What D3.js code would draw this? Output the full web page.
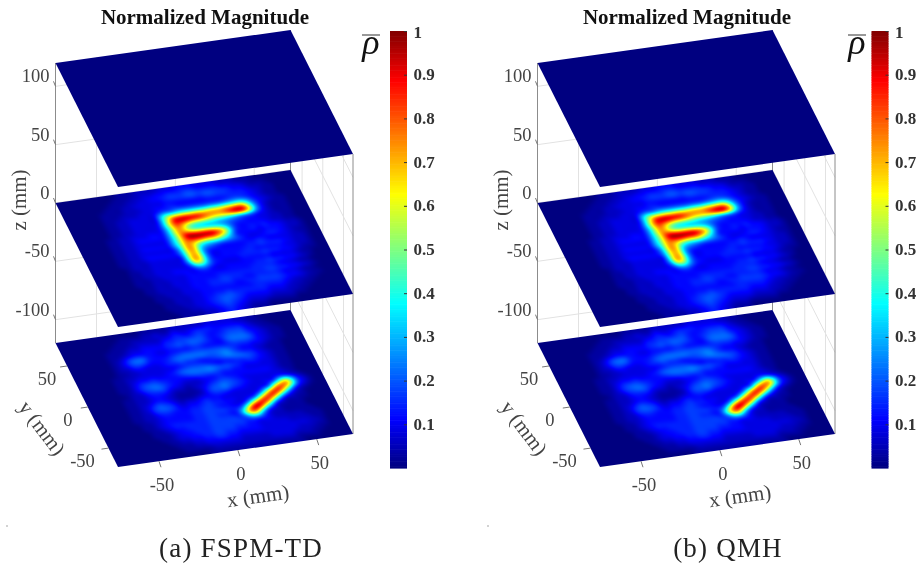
<!DOCTYPE html>
<html><head><meta charset="utf-8">
<script src="https://cdn.jsdelivr.net/npm/d3@7"></script>
<style>html,body{margin:0;background:#fff}svg{display:block;filter:blur(0.35px)}</style></head>
<body><div id="c"></div>
<script>
const titleText = "Normalized Magnitude";
const captions = ["(a) FSPM-TD", "(b) QMH"];
const zTicks = [100, 50, 0, -50, -100];
const xTicks = [-50, 0, 50];
const yTicks = [-50, 0, 50];
const barTicks = [0.1,0.2,0.3,0.4,0.5,0.6,0.7,0.8,0.9,1];
const jetStops = ["#000080","#0000ff","#00ffff","#ffff00","#ff0000","#800000"];
const jetPos = [0,0.11,0.375,0.625,0.885,1];
const planeZ = [-120, 0, 120];
// Field values, rows from back (y max) to front (y min); base-36, 0..z = 0..1
const topGrid = ["00000000","00000000","00000000","00000000","00000000","00000000"];
const midGrid = [
"0000000000 1112222333 4443333222 1110000000",
"0000000001 1122334455 5665555443 3211100000",
"0000000011 1223344566 6776776654 4322110000",
"0000000111 2233333444 4444555555 5432110000",
"0000001111 2223344554 4444444566 5432110000",
"0000001112 2233346689 9999aabcde b643211000",
"0000001122 33333bhjkl lmmnooqrts i942111000",
"0000001122 33333blwzz yxurqqtxzw ma42111000",
"0000001122 33334cnusp mlkigfdb98 6432111000",
"0000001122 33334ajrmf cbaa987654 4332211000",
"0000011223 33444ajqnk iihgea6444 4432211000",
"0000011223 44444ahrzz zzzvpf6445 4544322100",
"0000011223 33334ahquv usrnha4444 3444322100",
"0000011223 44444agqoj feeca86433 4554321100",
"0000011223 333336fqod 9754444445 4333322100",
"0000011223 444446eonb 5444444556 5554322100",
"0000011222 333333dpoc 5344445544 4443322100",
"0000001222 333334bonc 5444455556 5544321100",
"0000001122 3333336de9 5433344444 3333211000",
"0000001122 3334443564 3344444556 5544321000",
"0000001112 2333344444 4444445555 4332110000",
"0000001112 2233344444 5555555566 5544321000",
"0000000112 2233344455 6655445555 4332110000",
"0000000112 2223344455 5544556666 5443211000",
"0000000011 2223334444 4444455555 4322110000",
"0000000011 1222334455 6555555444 3221100000",
"0000000001 1222334567 7654444333 2211000000",
"0000000001 1122334567 6543333222 2110000000",
"0000000000 1112233456 5432221111 1000000000",
"0000000000 0111122345 4321110000 0000000000"];
const lowGrid = [
"0000000000 0000111112 2222233333 2211000000",
"0000000000 1111223224 3345554444 4321100000",
"0000000001 1122222345 5456544566 6432110000",
"0000000011 1223333556 6777545677 7543211000",
"0000000111 2334444567 6776544788 8743211000",
"0000000112 3444433444 4554444566 6543211000",
"0000000124 7885444567 7777777654 4332110000",
"0000000124 6764445788 8887789754 4321110000",
"0000000122 4433345565 5445678887 6432110000",
"0000000112 2333333456 6654344556 5432110000",
"0000001122 3333345788 8898776544 4332110000",
"0000001123 4454444567 7776554433 3332110000",
"0000001124 6776544333 4445444444 4432110000",
"0000001124 6787543222 3456654333 3333210000",
"0000000122 4555322123 4678765433 3344321000",
"0000001122 3443211112 5778654333 45dlf63100",
"0000001122 3443211123 4554333334 6ltsh63100",
"0000001123 5765323345 443333335e rxrf521000",
"0000001123 6776434456 55443347ju wmb4210000",
"0000001122 4554445566 544335eqxt g622110000",
"0000001122 3444445566 66557jxzoc 3211100000",
"0000000112 3444445566 5545frui73 2111100000",
"0000000112 3455555566 66657de732 2111110000",
"0000000011 2344555566 6666554432 2222111000",
"0000000011 1234455566 6655443333 3222211000",
"0000000001 1233445566 5544443333 3333221000",
"0000000000 1122334455 4433333333 3322211000",
"0000000000 0111223333 3322222333 3222110000",
"0000000000 0011111222 2222222222 2111100000",
"0000000000 0000001111 1111111111 1100000000"];

const xDom=[-76,73], yDom=[-73,78];
const xS=d3.scaleLinear().domain(xDom).range([0,1]);
const yS=d3.scaleLinear().domain(yDom).range([0,1]);
const zS=d3.scaleLinear().domain([-120,120]).range([140,-140]);
const jet=d3.scaleLinear().domain(jetPos).range(jetStops).interpolate(d3.interpolateRgb).clamp(true);
function project(x,y,z){const a=xS(x),b=yS(y);return [118+235*a-62.5*b, 327-33*a-124*b+zS(z)];}
function cr(p0,p1,p2,p3,t){return 0.5*(2*p1+(p2-p0)*t+(2*p0-5*p1+4*p2-p3)*t*t+(3*p1-p0-3*p2+p3)*t*t*t);}
function fieldImage(rowsIn){
  const rows=rowsIn.map(r=>r.replace(/ /g,""));
  const R=rows.length,C=rows[0].length,W=470,H=280;
  const v=rows.map(r=>Array.from({length:C},(_,i)=>parseInt(r[i]||"0",36)/35));
  const at=(r,c)=>v[Math.max(0,Math.min(R-1,r))][Math.max(0,Math.min(C-1,c))];
  const f=new Float32Array(W*H);
  for(let j=0;j<H;j++){const gy=(j+.5)/H*R-.5,r0=Math.floor(gy),ty=gy-r0;
    for(let i=0;i<W;i++){const gx=(i+.5)/W*C-.5,c0=Math.floor(gx),tx=gx-c0;
      const col=[-1,0,1,2].map(k=>cr(at(r0+k,c0-1),at(r0+k,c0),at(r0+k,c0+1),at(r0+k,c0+2),tx));
      f[j*W+i]=cr(col[0],col[1],col[2],col[3],ty);}}
  d3.blur2({data:f,width:W,height:H},4);
  const cv=document.createElement("canvas");cv.width=W;cv.height=H;
  const ctx=cv.getContext("2d"),im=ctx.createImageData(W,H);
  for(let o=0;o<W*H;o++){const c=d3.rgb(jet(Math.max(0,Math.min(1,f[o]))));
    im.data[o*4]=c.r;im.data[o*4+1]=c.g;im.data[o*4+2]=c.b;im.data[o*4+3]=255;}
  ctx.putImageData(im,0,0);
  return {url:cv.toDataURL(),W,H};
}
const svg=d3.select("#c").append("svg").attr("width",917).attr("height",567).attr("viewBox","0 0 917 567");
const root=svg.append("g");
const serif="'Liberation Serif','Times New Roman',serif";
const images={top:fieldImage(topGrid),mid:fieldImage(midGrid),low:fieldImage(lowGrid)};

function panel(dx,barDx,rhoX,capX,caption,dotX){
  const grids=[images.low,images.mid,images.top];
  const g=root.append("g").attr("transform",`translate(${dx},0)`);
  const grid=g.append("g").attr("fill","none").attr("stroke","#e2e2e2").attr("stroke-width",1);
  const seg=(sel,a,b,col)=>{const l=sel.append("line").attr("x1",a[0]).attr("y1",a[1]).attr("x2",b[0]).attr("y2",b[1]);if(col)l.attr("stroke",col);return l;};
  const [x0,x1]=xDom,[y0,y1]=yDom;
  zTicks.forEach(z=>{seg(grid,project(x0,y1,z),project(x1,y1,z));seg(grid,project(x1,y1,z),project(x1,y0,z));});
  xTicks.forEach(x=>seg(grid,project(x,y1,-120),project(x,y1,120)));
  yTicks.forEach(y=>seg(grid,project(x1,y,-120),project(x1,y,120)));
  [[x0,y1],[x1,y1],[x1,y0]].forEach(c=>seg(grid,project(c[0],c[1],-120),project(c[0],c[1],120),"#8c8c8c"));
  planeZ.forEach((z,i)=>{
    const im=grids[i];
    const o=project(x0,y1,z),ex=project(x1,y1,z),ey=project(x0,y0,z);
    g.append("image").attr("href",im.url).attr("width",im.W).attr("height",im.H).attr("preserveAspectRatio","none")
     .attr("transform",`matrix(${(ex[0]-o[0])/im.W},${(ex[1]-o[1])/im.W},${(ey[0]-o[0])/im.H},${(ey[1]-o[1])/im.H},${o[0]},${o[1]})`);
  });
  const lab=(t,x,y,o={})=>g.append("text").text(t).attr("x",x).attr("y",y).attr("font-family",serif).attr("font-size",o.size||18.5)
     .attr("fill",o.fill||"#444").attr("text-anchor",o.anchor||"middle").attr("dominant-baseline","central")
     .attr("font-weight",o.weight||null).attr("transform",o.rot?`rotate(${o.rot} ${x} ${y})`:null);
  const ticks=g.append("g").attr("stroke","#777").attr("stroke-width",1);
  zTicks.forEach(z=>{const p=project(x0,y1,z);seg(ticks,p,[p[0]-2,p[1]-5]);
    lab(z,p[0]-6,p[1]-10,{anchor:"end"});});
  xTicks.forEach(x=>{const p=project(x,y0,-120);seg(ticks,p,[p[0]+2,p[1]+6]);
    lab(x,p[0]+3,p[1]+24);});
  yTicks.forEach(y=>{const p=project(x0,y,-120);seg(ticks,p,[p[0]-7,p[1]+1]);
    lab(y,p[0]-26+(y===-50?0:6),p[1]+13);});
  lab("z (mm)",19,200,{rot:-90,size:21});
  lab("y (mm)",42,428,{rot:53,size:21});
  lab("x (mm)",258,496,{rot:-8,size:21});
  g.append("circle").attr("cx",dotX).attr("cy",526).attr("r",.8).attr("fill","#999");
  lab(titleText,205,17,{size:21,weight:"bold",fill:"#111"});
  const yb=d3.scaleLinear().domain([0,1]).range([468,31]);
  const bar=root.append("g").attr("transform",`translate(${barDx},0)`);
  bar.selectAll("rect").data(d3.range(0,1,1/256)).join("rect").attr("x",390).attr("width",17)
     .attr("y",d=>yb(d+1/256)).attr("height",d=>yb(d)-yb(d+1/256)+.6).attr("fill",d=>jet(d));
  const ax=bar.append("g").attr("transform","translate(407,0)")
     .call(d3.axisLeft(yb).tickValues(barTicks).tickSize(3).tickFormat(""));
  ax.select(".domain").remove();ax.selectAll("line").attr("stroke","#333");
  bar.selectAll("text.bl").data(barTicks).join("text").attr("class","bl").text(d=>d).attr("x",413.5).attr("y",d=>yb(d)+(d===1?1:0))
     .attr("font-family",serif).attr("font-size",17).attr("font-weight","bold").attr("fill","#333").attr("dominant-baseline","central");
  root.append("text").text("ρ").attr("x",rhoX).attr("y",54).attr("font-family",serif).attr("font-style","italic").attr("font-size",36).attr("fill","#111").attr("text-anchor","middle");
  root.append("line").attr("x1",rhoX-9).attr("x2",rhoX+9).attr("y1",35).attr("y2",35).attr("stroke","#333").attr("stroke-width",1);
  root.append("text").text(caption).attr("x",capX).attr("y",548).attr("font-family",serif).attr("font-size",27).attr("letter-spacing",1.2).attr("fill","#222").attr("text-anchor","middle").attr("dominant-baseline","central");
}
panel(0,0,371,241,captions[0],7);
panel(482,481.5,857,728,captions[1],6);
</script></body></html>
